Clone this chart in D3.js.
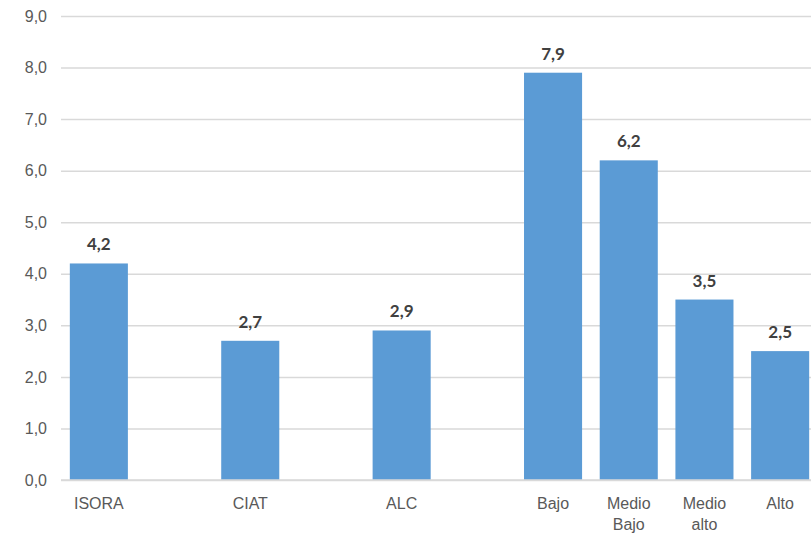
<!DOCTYPE html>
<html>
<head>
<meta charset="utf-8">
<script src="https://cdn.jsdelivr.net/npm/d3@7"></script>
<style>
  html, body { margin: 0; padding: 0; background: #fff; }
  svg { display: block; font-family: "Source Sans Pro", Lato, "Noto Sans", sans-serif; }
</style>
</head>
<body>
<svg id="chart" width="811" height="537"></svg>
<script>
// Group averages
const categories = ["ISORA", "CIAT", "ALC", "Bajo", "Medio Bajo", "Medio alto", "Alto"];
const values = [4.2, 2.7, 2.9, 7.9, 6.2, 3.5, 2.5];
const yTicks = [0, 1, 2, 3, 4, 5, 6, 7, 8, 9];

// Empty slots separate the first three groups from the income groups
const slots = ["ISORA", "_g1", "CIAT", "_g2", "ALC", "_g3", "Bajo", "Medio Bajo", "Medio alto", "Alto"];

const fmt = v => d3.format(".1f")(v).replace(".", ",");

const svg = d3.select("#chart");
const plotLeft = 61, plotRight = 818, plotTop = 16, plotBottom = 480;

const x = d3.scaleBand()
  .domain(slots)
  .range([plotLeft, plotRight])
  .paddingInner(0.233)
  .paddingOuter(0.1165);

const y = d3.scaleLinear().domain([0, 9]).range([plotBottom, plotTop]);

// Gridlines and y labels
const yAxis = d3.axisLeft(y)
  .tickValues(yTicks)
  .tickSize(-(plotRight - plotLeft))
  .tickPadding(14)
  .tickFormat(fmt);

const gy = svg.append("g")
  .attr("transform", `translate(${plotLeft},0)`)
  .call(yAxis);
gy.select(".domain").remove();
gy.selectAll(".tick line").attr("stroke", "#d9d9d9").attr("stroke-width", 1.5);
gy.selectAll(".tick text")
  .attr("fill", "#595959")
  .attr("font-size", 16);

// Bars
const data = categories.map((c, i) => ({ c, v: values[i] }));

svg.append("g").selectAll("rect")
  .data(data)
  .join("rect")
  .attr("x", d => x(d.c))
  .attr("y", d => y(d.v))
  .attr("width", x.bandwidth())
  .attr("height", d => y(0) - y(d.v))
  .attr("fill", "#5b9bd5");

// Value labels
svg.append("g").selectAll("text")
  .data(data)
  .join("text")
  .attr("x", d => x(d.c) + x.bandwidth() / 2)
  .attr("y", d => y(d.v) - 13)
  .attr("text-anchor", "middle")
  .attr("font-size", 17)
  .attr("font-weight", "bold")
  .attr("fill", "#404040")
  .text(d => fmt(d.v));

// Baseline
svg.append("line")
  .attr("x1", plotLeft).attr("x2", plotRight)
  .attr("y1", y(0)).attr("y2", y(0))
  .attr("stroke", "#d9d9d9").attr("stroke-width", 1.5);

// Category labels (wrapped onto two lines where needed)
const xAxis = d3.axisBottom(x).tickValues(categories).tickSize(0).tickPadding(0);
const gx = svg.append("g")
  .attr("transform", `translate(0,${plotBottom})`)
  .call(xAxis);
gx.select(".domain").remove();
gx.selectAll(".tick text")
  .attr("fill", "#595959")
  .attr("font-size", 16)
  .text(null)
  .each(function (d) {
    const words = d.split(" ");
    const t = d3.select(this);
    words.forEach((w, i) => {
      t.append("tspan")
        .attr("x", 0)
        .attr("y", 29 + i * 21)
        .attr("dy", 0)
        .text(w);
    });
  });
</script>
</body>
</html>
